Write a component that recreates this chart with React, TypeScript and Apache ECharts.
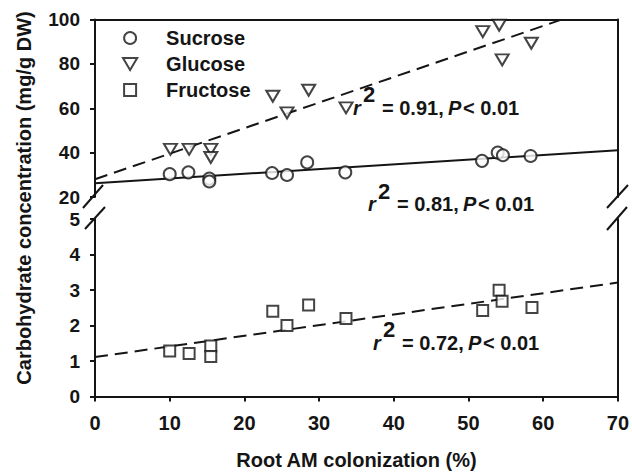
import React, { useEffect, useRef } from "react";
import * as echarts from "echarts";

// ---- data ----
const xTicks = [0, 10, 20, 30, 40, 50, 60, 70];
const upperTicks = [20, 40, 60, 80, 100];
const lowerTicks = [0, 1, 2, 3, 4, 5];

const sucrose: [number, number][] = [
  [10.0, 30.3], [12.5, 31.1], [15.3, 28.3], [15.3, 27.0], [23.7, 30.8], [25.7, 29.9],
  [28.4, 35.6], [33.5, 31.1], [51.8, 36.3], [53.9, 40.0], [54.6, 38.8], [58.3, 38.5],
];
const glucose: [number, number][] = [
  [10.1, 41.5], [12.6, 41.5], [15.5, 41.5], [15.5, 37.8], [23.8, 65.4], [25.7, 57.9],
  [28.6, 68.1], [33.6, 60.2], [51.9, 94.5], [54.1, 97.4], [54.5, 81.8], [58.4, 89.3],
];
const fructose: [number, number][] = [
  [10.0, 1.28], [12.6, 1.21], [15.5, 1.42], [15.5, 1.13], [23.8, 2.4], [25.7, 2.0],
  [28.6, 2.58], [33.6, 2.2], [51.9, 2.42], [54.1, 2.99], [54.5, 2.68], [58.5, 2.51],
];
// regression line end points
const sucroseFit: [number, number][] = [[0, 26.2], [70, 41.1]];
const glucoseFit: [number, number][] = [[0, 28.0], [62.5, 100]];
const fructoseFit: [number, number][] = [[0, 1.11], [70, 3.21]];

const seriesNames = ["Sucrose", "Glucose", "Fructose"];
const fitStats = [
  { r2: "0.91", p: "0.01" },
  { r2: "0.81", p: "0.01" },
  { r2: "0.72", p: "0.01" },
];

const FONT = "'Liberation Sans', Arial, Helvetica, sans-serif";
const INK = "#151515";

function annotation(x: number, y: number, r2: string, p: string) {
  const base = { fontFamily: FONT, fontWeight: "bold" as const, fill: INK, fontSize: 20, verticalAlign: "middle" as const };
  return {
    type: "group",
    x,
    y,
    children: [
      { type: "text", x: 0, y: 0, style: { ...base, text: "r", fontStyle: "italic" } },
      { type: "text", x: 10, y: -13, style: { ...base, text: "2", fontSize: 22 } },
      { type: "text", x: 29, y: 0, style: { ...base, text: `= ${r2},` } },
      { type: "text", x: 95, y: 0, style: { ...base, text: "P", fontStyle: "italic" } },
      { type: "text", x: 110, y: 0, style: { ...base, text: `< ${p}` } },
    ],
  };
}

function breakLine(x1: number, y1: number, x2: number, y2: number) {
  return { type: "line", shape: { x1, y1, x2, y2 }, style: { stroke: INK, lineWidth: 2 }, z: 100 };
}

export default function App() {
  const ref = useRef<HTMLDivElement>(null);
  useEffect(() => {
    if (!ref.current) return;
    const chart = echarts.init(ref.current, undefined, { renderer: "svg" });
    const axisLine = { show: true, lineStyle: { color: INK, width: 2 } };
    const tickStyle = { show: true, inside: false, length: 5, lineStyle: { color: INK, width: 2 } };
    const labelStyle = { color: INK, fontSize: 20, fontWeight: "bold" as const, fontFamily: FONT };
    const yLabelStyle = { ...labelStyle, fontSize: 19, margin: 15 };
    const markerStyle = { color: "#ffffff", borderColor: INK, borderWidth: 2 };

    chart.setOption({
      animation: false,
      backgroundColor: "#ffffff",
      grid: [
        { left: 95, right: 14, top: 19.5, height: 177.5 },
        { left: 95, right: 14, top: 219, height: 177.5 },
      ],
      xAxis: [
        {
          type: "value", gridIndex: 0, position: "top", min: xTicks[0], max: xTicks[xTicks.length - 1],
          axisLine, axisTick: { show: false }, axisLabel: { show: false }, splitLine: { show: false },
        },
        {
          type: "value", gridIndex: 1, position: "bottom", min: xTicks[0], max: xTicks[xTicks.length - 1],
          interval: xTicks[1] - xTicks[0],
          axisLine, axisTick: tickStyle, axisLabel: { ...labelStyle, margin: 16 }, splitLine: { show: false },
          name: "Root AM colonization (%)", nameLocation: "middle", nameGap: 53,
          nameTextStyle: { color: INK, fontSize: 20, fontWeight: "bold", fontFamily: FONT },
        },
      ],
      yAxis: [
        {
          type: "value", gridIndex: 0, position: "left", min: upperTicks[0], max: upperTicks[upperTicks.length - 1],
          interval: upperTicks[1] - upperTicks[0],
          axisLine, axisTick: tickStyle, axisLabel: yLabelStyle, splitLine: { show: false },
        },
        {
          type: "value", gridIndex: 0, position: "right", min: upperTicks[0], max: upperTicks[upperTicks.length - 1],
          axisLine, axisTick: { show: false }, axisLabel: { show: false }, splitLine: { show: false },
        },
        {
          type: "value", gridIndex: 1, position: "left", min: lowerTicks[0], max: lowerTicks[lowerTicks.length - 1],
          interval: lowerTicks[1] - lowerTicks[0],
          axisLine, axisTick: tickStyle, axisLabel: yLabelStyle, splitLine: { show: false },
        },
        {
          type: "value", gridIndex: 1, position: "right", min: lowerTicks[0], max: lowerTicks[lowerTicks.length - 1],
          axisLine, axisTick: { show: false }, axisLabel: { show: false }, splitLine: { show: false },
        },
      ],
      legend: {
        orient: "vertical",
        left: 122,
        top: 28,
        padding: 0,
        itemWidth: 62,
        itemHeight: 12,
        itemGap: 6,
        selectedMode: false,
        symbolRotate: 0,
        textStyle: { color: INK, fontSize: 20, fontWeight: "bold", fontFamily: FONT },
        data: [
          { name: seriesNames[0], icon: "circle" },
          { name: seriesNames[1], icon: "path://M0,0L13,0L6.5,11Z" },
          { name: seriesNames[2], icon: "path://M0,0L11,0L11,11L0,11Z" },
        ],
      },
      series: [
        {
          type: "line", xAxisIndex: 0, yAxisIndex: 0, data: sucroseFit, symbol: "none", clip: true, z: 1,
          lineStyle: { color: INK, width: 2, type: "solid" }, silent: true,
        },
        {
          type: "line", xAxisIndex: 0, yAxisIndex: 0, data: glucoseFit, symbol: "none", clip: true, z: 1,
          lineStyle: { color: INK, width: 2, type: [13, 7] }, silent: true,
        },
        {
          type: "line", xAxisIndex: 1, yAxisIndex: 2, data: fructoseFit, symbol: "none", clip: true, z: 1,
          lineStyle: { color: INK, width: 2, type: [13, 7] }, silent: true,
        },
        {
          name: seriesNames[0], type: "scatter", xAxisIndex: 0, yAxisIndex: 0, data: sucrose, z: 5,
          symbol: "circle", symbolSize: 12, itemStyle: markerStyle,
        },
        {
          name: seriesNames[1], type: "scatter", xAxisIndex: 0, yAxisIndex: 0, data: glucose, z: 5,
          symbol: "triangle", symbolRotate: 180, symbolSize: [13, 11], itemStyle: markerStyle,
        },
        {
          name: seriesNames[2], type: "scatter", xAxisIndex: 1, yAxisIndex: 2, data: fructose, z: 5,
          symbol: "rect", symbolSize: 11, itemStyle: markerStyle,
        },
      ],
      graphic: [
        {
          type: "text", x: 24, y: 198, rotation: Math.PI / 2,
          style: {
            text: "Carbohydrate concentration (mg/g DW)", fontSize: 20, fontWeight: "bold", fontFamily: FONT,
            fill: INK, align: "center", verticalAlign: "middle",
          },
        },
        annotation(353, 107.5, fitStats[0].r2, fitStats[0].p),
        annotation(368, 204, fitStats[1].r2, fitStats[1].p),
        annotation(373, 342.5, fitStats[2].r2, fitStats[2].p),
        breakLine(83, 208, 103, 185),
        breakLine(85, 229, 105, 207),
        breakLine(607, 208, 628, 185),
        breakLine(607, 230, 627, 207),
      ],
    });
    return () => chart.dispose();
  }, []);
  return (
    <div
      ref={ref}
      style={{ position: "fixed", left: 0, top: 0, width: 632, height: 472, background: "#fff" }}
    />
  );
}
